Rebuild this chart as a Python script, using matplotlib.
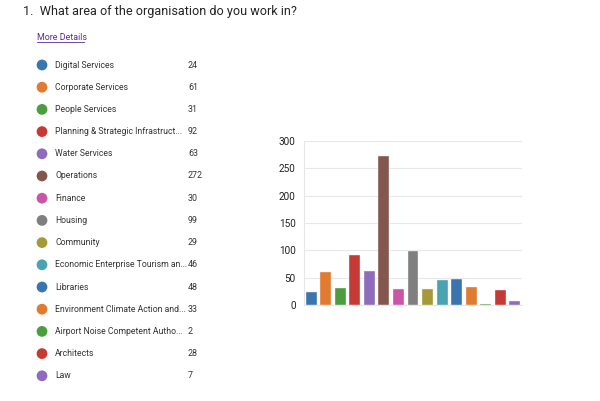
import numpy as np
import matplotlib.pyplot as plt

# Survey data
categories = ['Digital Services', 'Corporate Services', 'People Services',
              'Planning & Strategic Infrastruct...', 'Water Services', 'Operations',
              'Finance', 'Housing', 'Community', 'Economic Enterprise Tourism an...',
              'Libraries', 'Environment Climate Action and...',
              'Airport Noise Competent Autho...', 'Architects', 'Law']
counts = [24, 61, 31, 92, 63, 272, 30, 99, 29, 46, 48, 33, 2, 28, 7]
yticks = [0, 50, 100, 150, 200, 250, 300]

palette = ['#3a75b0', '#e07b30', '#4c9c40', '#c63a36', '#8e6bbb',
           '#84574e', '#c955a9', '#7f7f7f', '#a59a37', '#4aa3b0']
colors = [palette[i % len(palette)] for i in range(len(counts))]

plt.rcParams['font.family'] = ['Roboto', 'DejaVu Sans']

W, H = 600, 401
fig = plt.figure(figsize=(W / 100, H / 100), dpi=100)

# overlay in pixel coords for the text + legend list
ov = fig.add_axes([0, 0, 1, 1])
ov.set_xlim(0, W)
ov.set_ylim(H, 0)
ov.axis('off')

ov.text(23, 12, '1.  What area of the organisation do you work in?',
        fontsize=9.1, color='#252423', va='center', ha='left')
ov.text(37, 37, 'More Details', fontsize=6.4, color='#5c2d91',
        va='center', ha='left')
ov.plot([37, 84], [42, 42], color='#5c2d91', lw=0.6)

row0, step = 65, 22.2
for i, (cat, n) in enumerate(zip(categories, counts)):
    y = row0 + i * step
    ov.scatter(42, y, s=60, color=colors[i], edgecolor='none')
    ov.text(55, y, cat, fontsize=6.2, color='#333333', va='center', ha='left')
    ov.text(188, y, str(n), fontsize=6.4, color='#333333', va='center', ha='left')

# bar chart
ax = fig.add_axes([304 / W, 1 - 305 / H, 218 / W, 164 / H])
x = np.arange(len(counts))
ax.bar(x, counts, width=0.75, color=colors, edgecolor='#f2f2f2', linewidth=0.3, zorder=3)
ax.set_xlim(-0.5, len(counts) - 0.5)
ax.set_ylim(0, 300)
ax.set_yticks(yticks)
ax.set_xticks([])
ax.grid(axis='y', color='#e8e8e8', lw=0.8, zorder=0)
for s in ['top', 'right']:
    ax.spines[s].set_visible(False)
ax.spines['left'].set_color('#e6e6e6')
ax.spines['bottom'].set_color('#e6e6e6')
ax.tick_params(axis='y', length=0, labelsize=7.2, labelcolor='#222222', pad=6)

fig.savefig('out.png', dpi=100)
